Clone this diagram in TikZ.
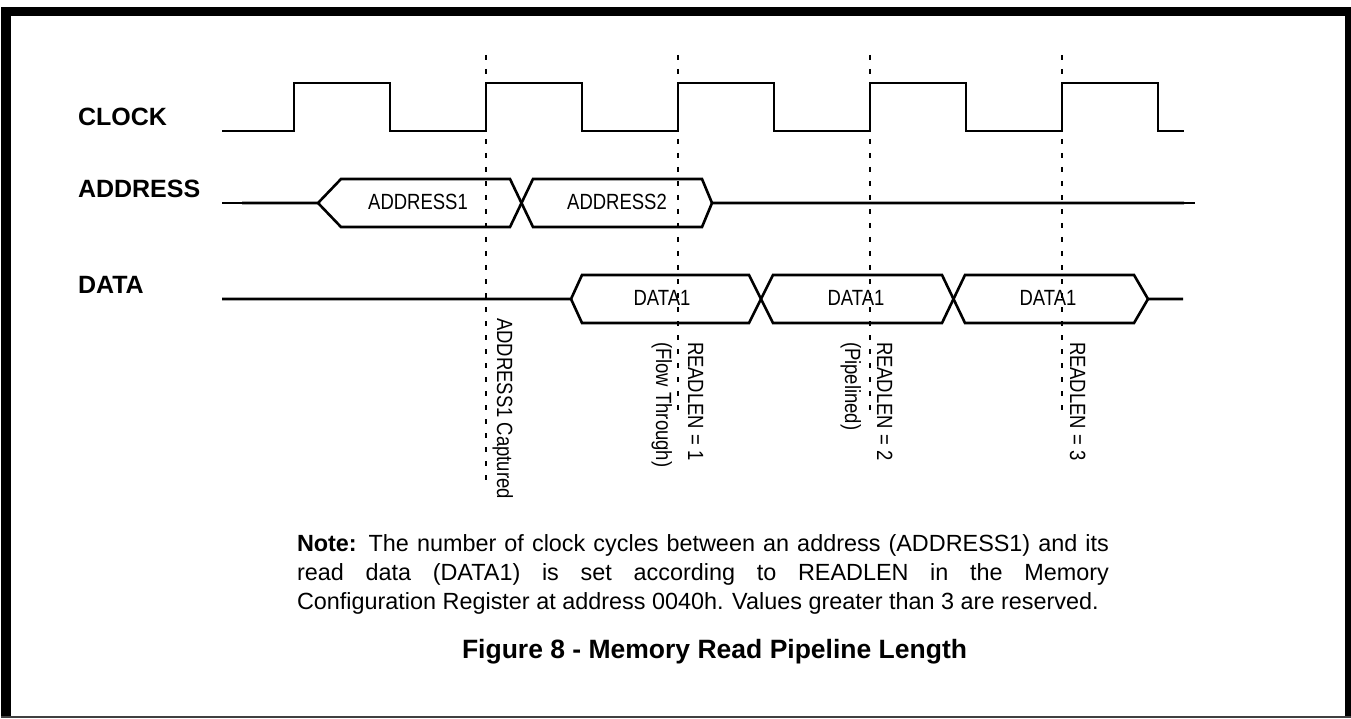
\documentclass[tikz,border=0pt]{standalone}
\usepackage{fontspec}
\setmainfont{Liberation Sans}

\begin{document}
\begin{tikzpicture}
[x=1pt,y=-1pt,
 every node/.style={inner sep=0pt,outer sep=0pt},
 sig/.style={line width=2.6pt,line join=miter},
 bus/.style={line width=2.6pt,line join=miter},
 stub/.style={line width=1.6pt},
 guide/.style={line width=1.3pt,dash pattern=on 5pt off 9pt},
 lbl/.style={anchor=base west,font=\fontsize{25}{30}\selectfont\bfseries},
 val/.style={xscale=0.84,font=\fontsize{22}{26}\selectfont},
 vlbl/.style={rotate=-90,val,anchor=base west},
 note/.style={anchor=north west,text width=812pt,align=justify,font=\fontsize{23.4}{29}\selectfont},
 capt/.style={anchor=base west,font=\fontsize{26.5}{32}\selectfont\bfseries}]
\useasboundingbox (0,0) rectangle (1351,719);

% frame
\fill (1,7) rectangle (11,717);
\fill (1,7) rectangle (1351,16);
\fill (1345,7) rectangle (1351,717);
\draw[line width=1.2pt,black!75] (1,717) -- (1351,717);

% guides
\foreach \x/\e in {486/480,678/418,870/418,1062/418}
  \draw[guide] (\x,55) -- (\x,\e);

% clock
\draw[sig] (222,131) -- (294,131)
  \foreach \k in {1,...,4}{ -- ++(0,-48) -- ++(96,0) -- ++(0,48) -- ++(96,0)}
  -- ++(0,-48) -- ++(96,0) -- ++(0,48) -- ++(26,0);

% address bus
\draw[stub] (222,203) -- (242,203);
\draw[bus] (242,203) -- (318,203) -- (341,179) -- (510,179) -- (533,227)
  -- (702,227) -- (712,203) -- (1184,203);
\draw[bus] (318,203) -- (341,227) -- (510,227) -- (533,179) -- (702,179) -- (712,203);
\draw[stub] (1184,203) -- (1195,203);

% data bus
\draw[bus] (222,299) -- (571,299) -- (582,275) -- (749,275) -- (773,323)
  -- (942,323) -- (965,275) -- (1134,275) -- (1148,299) -- (1183,299);
\draw[bus] (571,299) -- (582,323) -- (749,323) -- (773,275) -- (942,275)
  -- (965,323) -- (1134,323) -- (1148,299);

\node[lbl] (clk) at (78,126) {CLOCK};
\node[lbl] (adr) at (78,198) {ADDRESS};
\node[lbl] (dat) at (78,294) {DATA};

\node[val] (a1) at (418,202) {ADDRESS1};
\node[val] (a2) at (617,202) {ADDRESS2};
\node[val] (d1) at (662,298) {DATA1};
\node[val] (d2) at (856,298) {DATA1};
\node[val] (d3) at (1048,298) {DATA1};

\node[vlbl] (cap) at (497,318) {ADDRESS1 Captured};
\node[vlbl] (rl1) at (688,342) {READLEN = 1};
\node[vlbl] (ft)  at (656,342) {(Flow Through)};
\node[vlbl] (rl2) at (877,342) {READLEN = 2};
\node[vlbl] (pl)  at (845,342) {(Pipelined)};
\node[vlbl] (rl3) at (1070,342) {READLEN = 3};

\node[note] (nt) at (297,535) {\textbf{Note:} The number of clock cycles between an address (ADDRESS1) and its\linebreak
  read data (DATA1) is set according to READLEN in the Memory\linebreak
  Configuration Register at address 0040h. Values greater than 3 are reserved.};
\node[capt] (fig) at (462,658) {Figure 8 - Memory Read Pipeline Length};
\end{tikzpicture}
\end{document}
